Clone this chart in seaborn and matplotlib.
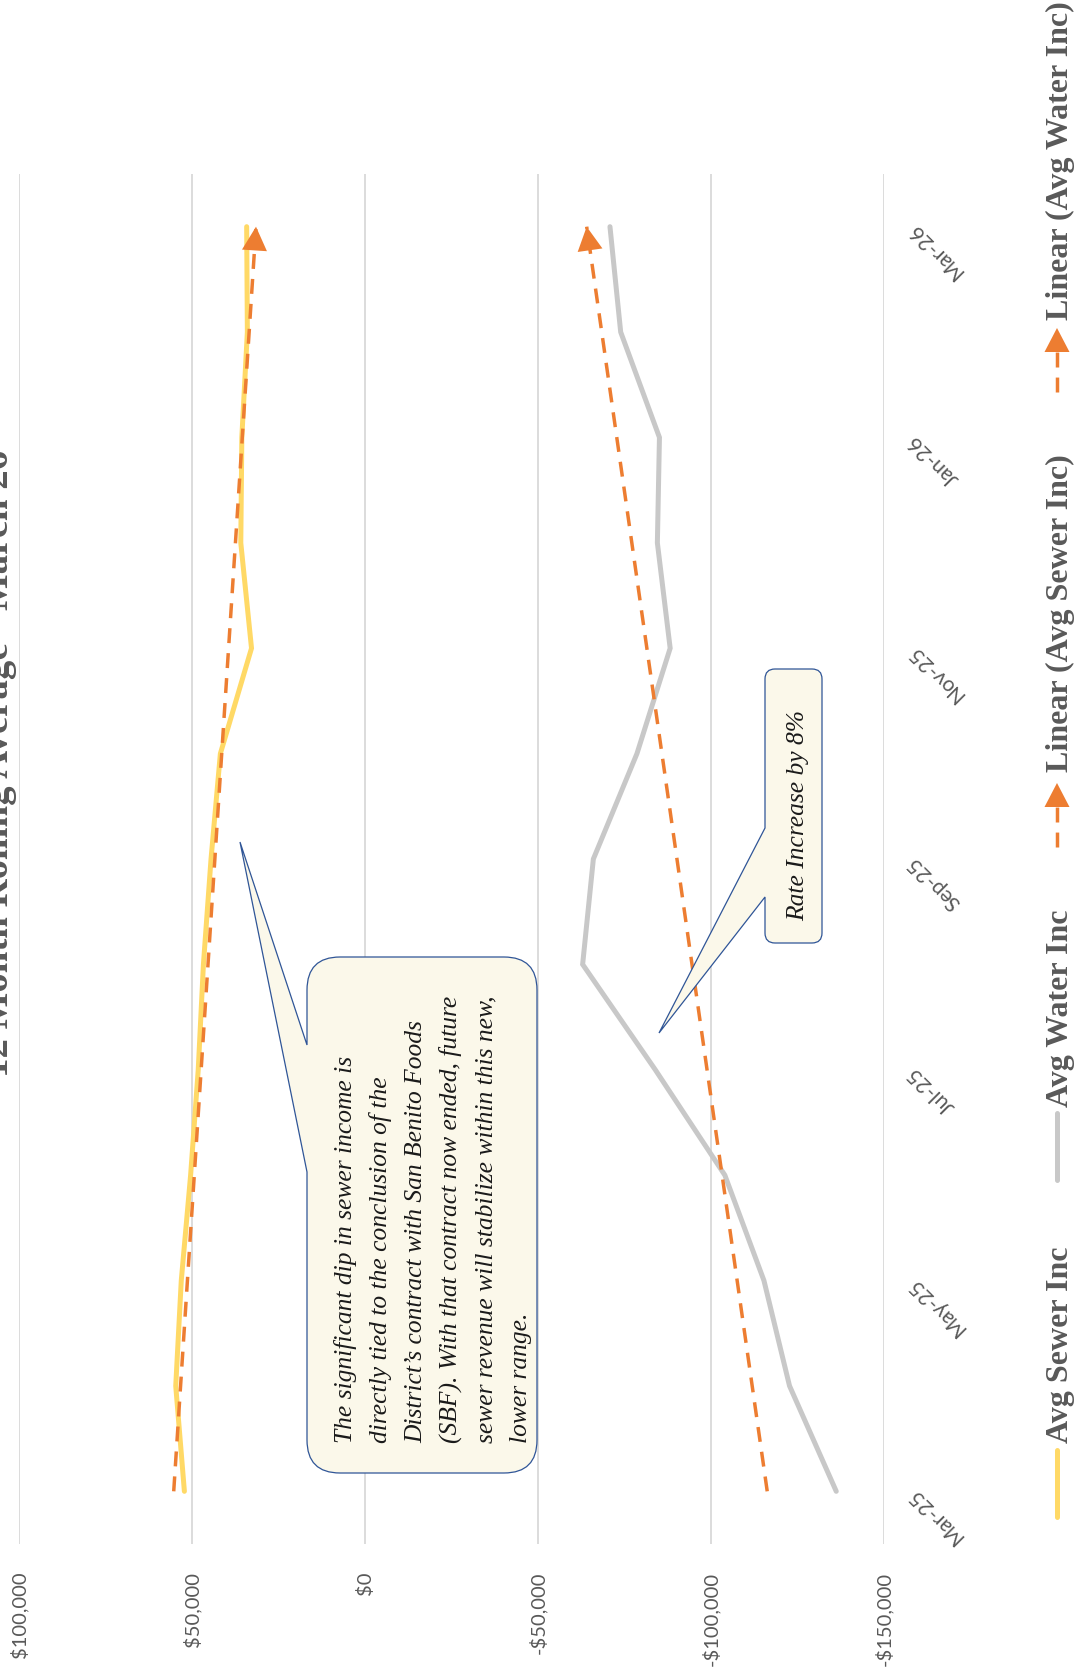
import numpy as np
import pandas as pd
import matplotlib
matplotlib.use("Agg")
import matplotlib.pyplot as plt
import seaborn as sns
from matplotlib.path import Path
from matplotlib.patches import PathPatch, Polygon
from matplotlib.lines import Line2D
from matplotlib.transforms import Affine2D

# ---- data -------------------------------------------------------------
months = ["Mar-25", "Apr-25", "May-25", "Jun-25", "Jul-25", "Aug-25", "Sep-25",
          "Oct-25", "Nov-25", "Dec-25", "Jan-26", "Feb-26", "Mar-26"]
avg_sewer_inc = [52200, 54700, 53100, 50400, 48200, 46700, 44500,
                 41800, 32800, 35900, 35600, 34000, 34200]
avg_water_inc = [-136200, -122700, -115300, -104000, -83900, -62900, -66000,
                 -78600, -88200, -84500, -85100, -73900, -70800]
value_ticks = [100000, 50000, 0, -50000, -100000, -150000]
series_names = ["Avg Sewer Inc", "Avg Water Inc",
                "Linear (Avg Sewer Inc)", "Linear (Avg Water Inc)"]
title_text = "12 Month Rolling Average - March 26"
note_sewer = ["The significant dip in sewer income is",
              "directly tied to the conclusion of the",
              "District\u2019s contract with San Benito Foods",
              "(SBF). With that contract now ended, future",
              "sewer revenue will stabilize within this new,",
              "lower range."]
note_rate = "Rate Increase by 8%"

# ---- style ------------------------------------------------------------
sns.set_style("white")
plt.rcParams["font.family"] = ["Lato", "DejaVu Sans"]

YELLOW = "#FFD966"
GRAY = "#C8C8C8"
ORANGE = "#ED7D31"
GRID = "#D9D9D9"
TXT = "#595959"
BOX_FACE = "#FBF8EA"
BOX_EDGE = "#2F5597"
SERIF = ["Liberation Serif", "DejaVu Serif"]

W, H = 1075, 1670
fig = plt.figure(figsize=(W / 100, H / 100), dpi=100)
fig.patch.set_facecolor("white")
pix = Affine2D().scale(1 / W, 1 / H) + fig.transFigure


def P(x, y):
    """Image-style pixel position (origin top-left) -> figure pixels."""
    return (x, H - y)


# value axis runs horizontally, months run upwards
ax = fig.add_axes([19 / W, (H - 1544) / H, 865 / W, 1370 / H])
idx = np.arange(len(months))

df = pd.DataFrame({
    "month": np.concatenate([idx, idx]),
    "value": np.concatenate([avg_sewer_inc, avg_water_inc]),
    "series": [series_names[0]] * len(idx) + [series_names[1]] * len(idx),
})

# linear trend lines of both series
trend_sewer = np.polyval(np.polyfit(idx, avg_sewer_inc, 1), idx)
trend_water = np.polyval(np.polyfit(idx, avg_water_inc, 1), idx)

sns.lineplot(data=df, x="value", y="month", hue="series",
             palette=[YELLOW, GRAY], orient="y", estimator=None,
             linewidth=3.6, legend=False, ax=ax, zorder=3,
             solid_capstyle="round", solid_joinstyle="miter")
for tr in (trend_sewer, trend_water):
    sns.lineplot(x=tr, y=idx, orient="y", estimator=None, color=ORANGE,
                 linewidth=2.5, linestyle=(0, (4.3, 2.9)), legend=False,
                 ax=ax, zorder=4)
    ax.annotate("", xy=(tr[-1], idx[-1]), xytext=(tr[-2], idx[-2]),
                arrowprops=dict(arrowstyle="-|>,head_length=0.95,head_width=0.5",
                                color=ORANGE, lw=0, shrinkA=0, shrinkB=0,
                                mutation_scale=18), zorder=5)

ax.set_xlim(100000, -150000)
ax.set_ylim(-0.5, len(months) - 0.5)
ax.set_xlabel("")
ax.set_ylabel("")
for s in ax.spines.values():
    s.set_visible(False)

ax.set_xticks(value_ticks,
              labels=[("-$" if v < 0 else "$") + f"{abs(v):,}" for v in value_ticks])
ax.grid(axis="x", color=GRID, linewidth=1.3, zorder=0)
ax.grid(axis="y", visible=False)
ax.tick_params(axis="x", length=0, labelrotation=90, labelsize=14.5,
               labelcolor=TXT, pad=20)

ax.set_yticks(idx[::2], labels=[months[i] for i in idx[::2]])
ax.tick_params(axis="y", left=False, right=False, labelleft=False,
               labelright=True, labelsize=15, labelcolor=TXT, pad=16)
for lab in ax.get_yticklabels():
    lab.set_rotation(135)
    lab.set_rotation_mode("anchor")
    lab.set_ha("right")
    lab.set_va("center")

# ---- title ------------------------------------------------------------
fig.text(*P(8, 763), title_text, transform=pix, rotation=90,
         rotation_mode="anchor", ha="center", va="baseline",
         fontsize=28, fontweight="bold", color=TXT, family=SERIF)


# ---- callouts ---------------------------------------------------------
def callout(x0, y0, x1, y1, r, ya, yb, tip):
    pts = [(x0 + r, y0), (x1 - r, y0), (x1, y0), (x1, y0 + r),
           (x1, y1 - r), (x1, y1), (x1 - r, y1), (x0 + r, y1),
           (x0, y1), (x0, y1 - r), (x0, yb), tip, (x0, ya),
           (x0, y0 + r), (x0, y0), (x0 + r, y0), (x0 + r, y0)]
    codes = [Path.MOVETO, Path.LINETO, Path.CURVE3, Path.CURVE3,
             Path.LINETO, Path.CURVE3, Path.CURVE3, Path.LINETO,
             Path.CURVE3, Path.CURVE3, Path.LINETO, Path.LINETO, Path.LINETO,
             Path.LINETO, Path.CURVE3, Path.CURVE3, Path.CLOSEPOLY]
    path = Path([P(x, y) for x, y in pts], codes)
    fig.add_artist(PathPatch(path, facecolor=BOX_FACE, edgecolor=BOX_EDGE,
                             linewidth=0.9, transform=pix, zorder=6))


NOTE_SIZE = 18.4
callout(307, 957, 537, 1473, 33, 1045, 1172, (240, 842))
for i, line in enumerate(note_sewer):
    fig.text(*P(352 + 35 * i, 1443), line, transform=pix, rotation=90,
             rotation_mode="anchor", ha="left", va="baseline",
             fontsize=NOTE_SIZE, style="italic", color="#1A1A1A",
             family=SERIF, zorder=7)

callout(765, 669, 822, 943, 10, 828, 897, (659, 1033))
fig.text(*P(804, 921), note_rate, transform=pix, rotation=90,
         rotation_mode="anchor", ha="left", va="baseline",
         fontsize=NOTE_SIZE, style="italic", color="#1A1A1A", family=SERIF,
         zorder=7)

# ---- legend (reads bottom to top) --------------------------------------
LX = 1057


def legend_line(y_from, y_to, color, lw, ls="-"):
    fig.add_artist(Line2D([P(LX, y_from)[0], P(LX, y_to)[0]],
                          [P(LX, y_from)[1], P(LX, y_to)[1]],
                          color=color, linewidth=lw, linestyle=ls,
                          solid_capstyle="round", transform=pix))


def legend_arrow(y_tail, y_base, y_tip):
    legend_line(y_tail, y_base, ORANGE, 2.5, (0, (4.3, 2.9)))
    tri = [P(LX - 12.5, y_base), P(LX + 12.5, y_base), P(LX, y_tip)]
    fig.add_artist(Polygon(tri, closed=True, facecolor=ORANGE,
                           edgecolor="none", transform=pix))


def legend_text(y, s):
    fig.text(*P(1068, y), s, transform=pix, rotation=90,
             rotation_mode="anchor", ha="left", va="baseline",
             fontsize=23, fontweight="bold", color=TXT, family=SERIF)


legend_line(1517, 1450, YELLOW, 3.6)
legend_text(1443, series_names[0])
legend_line(1180, 1113, GRAY, 3.6)
legend_text(1107, series_names[1])
legend_arrow(847, 807, 783)
legend_text(772, series_names[2])
legend_arrow(392, 352, 328)
legend_text(320, series_names[3])

fig.savefig("out.png", dpi=100)
